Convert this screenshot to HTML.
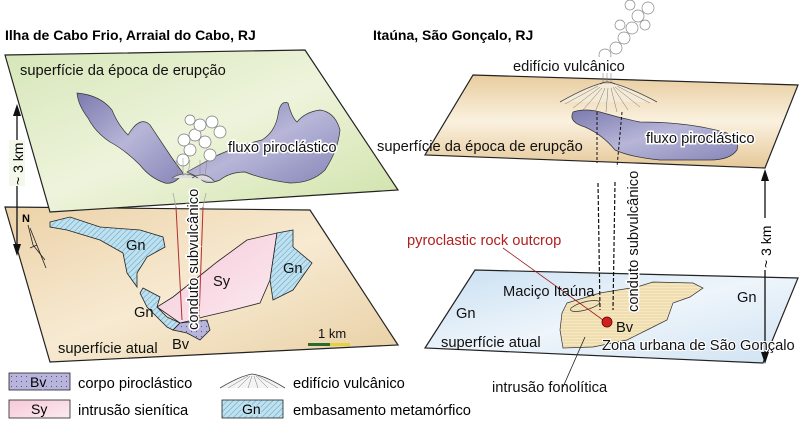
<!DOCTYPE html>
<html><head><meta charset="utf-8"><style>
html,body{margin:0;padding:0;background:#fff;}
svg{display:block;font-family:"Liberation Sans",Arial,sans-serif;}
</style></head><body>
<svg width="800" height="425" viewBox="0 0 800 425" xmlns="http://www.w3.org/2000/svg">
<defs>
<linearGradient id="gr" x1="0" y1="0" x2="1" y2="1"><stop offset="0" stop-color="#d6e6b8"/><stop offset="0.5" stop-color="#eef4dc"/><stop offset="1" stop-color="#cfe2a8"/></linearGradient>
<linearGradient id="tan" x1="0" y1="0" x2="1" y2="1"><stop offset="0" stop-color="#ecd2a8"/><stop offset="0.5" stop-color="#f7ead2"/><stop offset="1" stop-color="#e8cfa2"/></linearGradient>
<linearGradient id="tan2" x1="0" y1="0" x2="0" y2="1"><stop offset="0" stop-color="#e8cc9e"/><stop offset="0.5" stop-color="#faf1df"/><stop offset="1" stop-color="#e6c898"/></linearGradient>
<linearGradient id="blue" x1="0" y1="0" x2="1" y2="1"><stop offset="0" stop-color="#c9dff2"/><stop offset="0.5" stop-color="#eef5fb"/><stop offset="1" stop-color="#cfe2f2"/></linearGradient>
<linearGradient id="pur" x1="0" y1="0" x2="1" y2="1"><stop offset="0" stop-color="#7c7aae"/><stop offset="0.5" stop-color="#b7b6d8"/><stop offset="1" stop-color="#8886b8"/></linearGradient>
<linearGradient id="pink" x1="0" y1="0" x2="1" y2="1"><stop offset="0" stop-color="#f6c9d8"/><stop offset="1" stop-color="#fbeaf0"/></linearGradient>
<pattern id="hatch" width="4" height="4" patternUnits="userSpaceOnUse" patternTransform="rotate(45)"><rect width="4" height="4" fill="#bfe0ee"/><line x1="0" y1="0" x2="0" y2="4" stroke="#5aa0c0" stroke-width="1"/></pattern>
<pattern id="dots" width="5" height="5" patternUnits="userSpaceOnUse"><rect width="5" height="5" fill="#b8b4dc"/><circle cx="1.5" cy="1.5" r="0.6" fill="#5a5690"/></pattern>
<pattern id="horiz" width="4" height="3" patternUnits="userSpaceOnUse"><rect width="4" height="3" fill="#f7e8c2"/><line x1="0" y1="1" x2="4" y2="1" stroke="#e0c890" stroke-width="0.6"/></pattern>
</defs>

<text x="5" y="40" font-size="14" font-weight="bold">Ilha de Cabo Frio, Arraial do Cabo, RJ</text>
<text x="373" y="40" font-size="14" font-weight="bold">Itaúna, São Gonçalo, RJ</text>

<polygon points="5,207 310,210 398,345 50,362" fill="url(#tan)" stroke="#222" stroke-width="1.2"/>
<path d="M50,222 L70,217 L100,227 L140,230 L163,237 L165,247 L147,257 L137,273 L137,287 L127,273 L123,253 L100,240 L67,230 L50,227 Z" fill="url(#hatch)" stroke="#222" stroke-width="0.8"/>
<path d="M217,262 L247,240 L277,233 L270,280 L260,303 L233,310 L203,317 L193,320 L180,323 L157,307 L173,297 L207,270 Z" fill="url(#pink)" stroke="#222" stroke-width="0.8"/>
<path d="M277,233 L293,230 L293,247 L312,263 L293,290 L273,300 L270,280 Z" fill="url(#hatch)" stroke="#222" stroke-width="0.8"/>
<path d="M143,288 L160,297 L157,307 L167,317 L180,323 L173,330 L167,327 L147,307 L140,293 Z" fill="url(#hatch)" stroke="#222" stroke-width="0.8"/>
<path d="M180,323 L207,320 L210,330 L200,340 L187,333 L173,330 Z" fill="url(#dots)" stroke="#222" stroke-width="0.8"/>
<text x="22" y="222" font-size="11" font-weight="bold">N</text>
<path d="M28,225 L33,245 L45,260 M30,248 L37,245" stroke="#222" fill="none" stroke-width="0.8"/>
<line x1="30" y1="228" x2="46" y2="268" stroke="#222" stroke-width="0.8"/>

<polygon points="5,55 305,50 398,190 50,212" fill="url(#gr)" stroke="#222" stroke-width="1.2"/>
<path d="M77,93 Q100,95 112,110 Q118,125 128,135 Q140,115 150,125 Q160,140 172,158 L183,173 Q175,185 165,183 Q150,178 140,165 Q125,150 110,142 Q95,132 88,118 Q78,105 77,93 Z" fill="url(#pur)" stroke="#333" stroke-width="0.7"/>
<path d="M187,172 Q205,162 218,155 Q240,145 262,140 Q275,132 278,115 Q280,100 288,103 Q292,118 297,122 Q305,112 320,110 Q335,112 340,130 Q338,150 325,170 Q312,183 290,183 Q265,180 245,172 Q230,172 220,180 Q205,186 200,178 Z" fill="url(#pur)" stroke="#333" stroke-width="0.7"/>
<g fill="#fff" stroke="#777" stroke-width="0.7">
<circle cx="183" cy="160" r="6"/><circle cx="190" cy="150" r="6"/><circle cx="184" cy="140" r="6"/><circle cx="195" cy="135" r="6"/><circle cx="205" cy="142" r="6"/><circle cx="200" cy="125" r="6"/><circle cx="212" cy="122" r="6"/><circle cx="220" cy="132" r="6"/><circle cx="210" cy="155" r="6"/><circle cx="190" cy="120" r="5"/>
</g>
<path d="M172,178 Q185,170 198,178 M192,178 Q205,170 215,182" stroke="#555" fill="#ddd" stroke-width="0.8"/>
<path d="M178,176 L176,160 M183,176 L183,158 M188,176 L190,160 M200,176 L200,160 M205,176 L207,160" stroke="#888" stroke-width="0.5"/>
<line x1="173" y1="193" x2="176" y2="207" stroke="#aaa" stroke-width="0.8"/>
<line x1="206" y1="193" x2="203" y2="207" stroke="#aaa" stroke-width="0.8"/>
<line x1="176" y1="207" x2="182" y2="320" stroke="#b03030" stroke-width="1"/>
<line x1="203" y1="207" x2="199" y2="320" stroke="#b03030" stroke-width="1"/>

<line x1="17" y1="110" x2="17" y2="250" stroke="#111" stroke-width="1.3"/>
<polygon points="13,116 17,104 21,116" fill="#111"/><polygon points="13,244 17,256 21,244" fill="#111"/>
<rect x="9" y="140" width="16" height="46" fill="#f4f8ea"/>
<text transform="translate(23,185) rotate(-90)" font-size="14">~ 3 km</text>

<g font-size="14.7" fill="#111">
<text x="20" y="75">superfície da época de erupção</text>
<text x="228" y="152" stroke="#fff" stroke-width="3" paint-order="stroke">fluxo piroclástico</text>
<text transform="translate(198,330) rotate(-90)" stroke="#fff" stroke-width="3" paint-order="stroke">conduto subvulcânico</text>
<text x="126" y="250">Gn</text>
<text x="283" y="273">Gn</text>
<text x="134" y="317">Gn</text>
<text x="213" y="286">Sy</text>
<text x="172" y="349">Bv</text>
<text x="58" y="353">superfície atual</text>
<text x="318" y="338" font-size="13">1 km</text>
</g>
<rect x="308" y="343" width="22" height="3" fill="#2a6a2a"/><rect x="330" y="343" width="20" height="3" fill="#e6d040"/>

<polygon points="473,75 798,85 765,168 425,155" fill="url(#tan2)" stroke="#222" stroke-width="1.2"/>
<path d="M573,112 Q585,108 600,112 Q620,118 640,122 Q690,122 727,133 Q740,140 737,150 Q730,160 710,160 L660,160 Q630,157 615,150 Q603,135 585,127 Q568,122 573,112 Z" fill="url(#pur)" stroke="#333" stroke-width="0.7"/>
<path d="M560,102 Q590,85 607,82 Q625,85 657,102" fill="#f4ead6" stroke="#444" stroke-width="0.8"/>
<path d="M600,84 Q607,80 615,84" stroke="#333" fill="#ccc" stroke-width="0.8"/>
<g stroke="#777" stroke-width="0.5" fill="none">
<path d="M598,86 L565,104 M600,87 L573,108 M602,88 L583,110 M605,88 L595,112 M608,88 L606,112 M611,88 L617,112 M613,87 L628,110 M615,87 L640,107 M617,86 L650,103"/>
<path d="M603,82 L603,72 M607,82 L607,70 M611,82 L611,72"/>
</g>
<g fill="#fff" stroke="#888" stroke-width="0.7">
<circle cx="610" cy="64" r="6"/><circle cx="605" cy="55" r="6"/><circle cx="616" cy="48" r="6"/><circle cx="624" cy="38" r="6"/><circle cx="632" cy="28" r="6"/><circle cx="638" cy="16" r="6"/><circle cx="648" cy="8" r="6"/><circle cx="620" cy="25" r="5"/><circle cx="645" cy="25" r="5"/><circle cx="630" cy="5" r="5"/>
</g>
<rect x="510" y="57" width="118" height="16" fill="#fff"/>
<line x1="597" y1="112" x2="597" y2="163" stroke="#111" stroke-dasharray="3,2"/>
<line x1="622" y1="112" x2="617" y2="167" stroke="#111" stroke-dasharray="3,2"/>

<polygon points="475,270 798,278 763,363 425,348" fill="url(#blue)" stroke="#222" stroke-width="1.2"/>
<path d="M567,303 L600,293 L637,287 L653,282 L693,283 L703,288 L690,297 L673,303 L667,320 L647,330 L627,340 L593,347 L563,348 L560,330 L562,313 Z" fill="url(#horiz)" stroke="#333" stroke-width="0.7"/>
<line x1="598" y1="183" x2="600" y2="310" stroke="#111" stroke-dasharray="4,2" stroke-width="1.2"/>
<line x1="615" y1="182" x2="613" y2="310" stroke="#111" stroke-dasharray="4,2" stroke-width="1.2"/>
<ellipse cx="585" cy="306" rx="15" ry="4" transform="rotate(-15 585 306)" fill="none" stroke="#333" stroke-width="0.7"/>
<line x1="503" y1="248" x2="603" y2="320" stroke="#a02020" stroke-width="0.8"/>
<circle cx="607" cy="322" r="5" fill="#d02020" stroke="#600" stroke-width="0.8"/>
<line x1="563" y1="387" x2="585" y2="337" stroke="#222" stroke-width="0.8"/>

<line x1="765" y1="175" x2="765" y2="358" stroke="#111" stroke-width="1.3"/>
<polygon points="761,181 765,169 769,181" fill="#111"/><polygon points="761,352 765,364 769,352" fill="#111"/>
<rect x="757" y="218" width="16" height="52" fill="#fff"/>
<text transform="translate(771,268) rotate(-90)" font-size="14">~ 3 km</text>

<g font-size="14.7" fill="#111">
<text x="513" y="71">edifício vulcânico</text>
<text x="377" y="151">superfície da época de erupção</text>
<text x="646" y="143" stroke="#fff" stroke-width="3" paint-order="stroke">fluxo piroclástico</text>
<text transform="translate(638,312) rotate(-90)" stroke="#fff" stroke-width="3" paint-order="stroke">conduto subvulcânico</text>
<text x="407" y="245" fill="#b02020">pyroclastic rock outcrop</text>
<text x="503" y="296">Maciço Itaúna</text>
<text x="456" y="318">Gn</text>
<text x="737" y="302">Gn</text>
<text x="441" y="347">superfície atual</text>
<text x="616" y="332">Bv</text>
<text x="602" y="350" stroke="#fff" stroke-width="2" paint-order="stroke">Zona urbana de São Gonçalo</text>
<text x="492" y="392">intrusão fonolítica</text>
</g>

<rect x="9" y="373" width="61" height="17" fill="url(#dots)" stroke="#222" stroke-width="0.8"/>
<text x="30" y="387" font-size="14" stroke="#b8b4dc" stroke-width="3" paint-order="stroke">Bv</text>
<rect x="9" y="400" width="61" height="18" fill="url(#pink)" stroke="#222" stroke-width="0.8"/>
<text x="31" y="414" font-size="14">Sy</text>
<text x="78" y="388" font-size="14.7">corpo piroclástico</text>
<text x="78" y="415" font-size="14.7">intrusão sienítica</text>
<path d="M220,388 Q240,376 252,374 Q266,376 285,388" fill="#f4f4f4" stroke="#444" stroke-width="0.8"/>
<g stroke="#777" stroke-width="0.5"><path d="M248,376 L228,388 M250,376 L238,388 M252,376 L248,388 M254,376 L258,388 M256,376 L268,388 M258,376 L278,388"/></g>
<rect x="222" y="400" width="61" height="18" fill="url(#hatch)" stroke="#222" stroke-width="0.8"/>
<text x="242" y="414" font-size="14" stroke="#bfe0ee" stroke-width="3" paint-order="stroke">Gn</text>
<text x="293" y="388" font-size="14.7">edifício vulcânico</text>
<text x="293" y="415" font-size="14.7">embasamento metamórfico</text>
</svg>
</body></html>
